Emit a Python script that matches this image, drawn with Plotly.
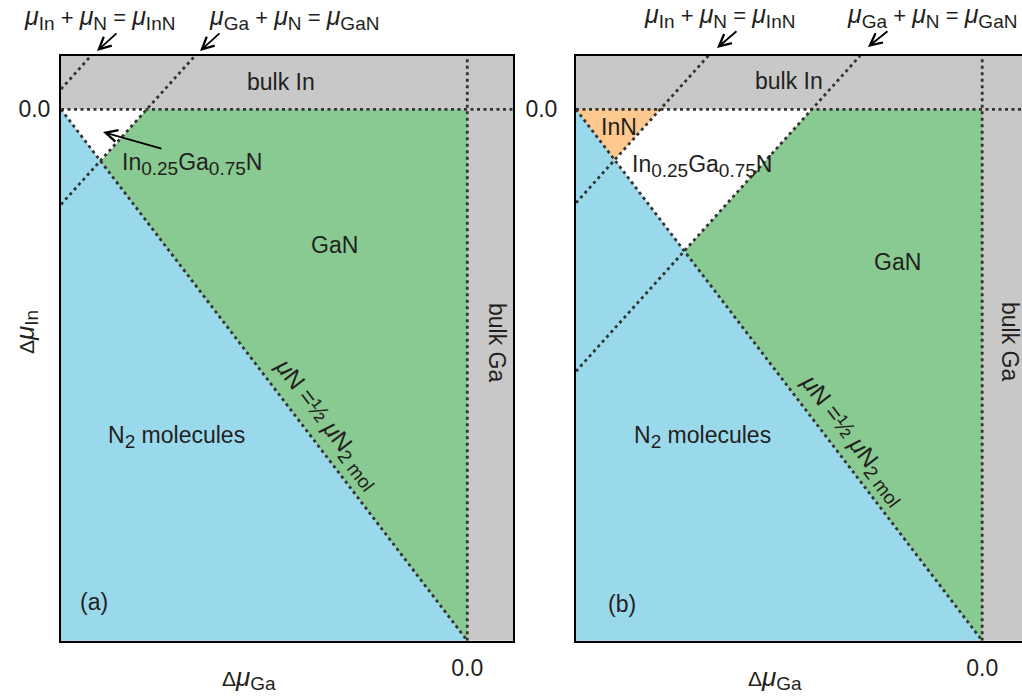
import plotly.graph_objects as go

W, H = 1022, 696

# ---------------- data (chemical-potential units, Δμ) ----------------
X_MIN, X_MAX_A, X_MAX_B = -1.0, 0.1125, 0.098
Y_MIN, Y_MAX = -1.0, 0.101

# common region: N2 molecules (below μN = ½ μN2)
blue_x = [-1.0, 0.0, -1.0]
blue_y = [0.0, -1.0, -1.0]

# panel (a)
a_white_x = [-1.0, -0.789, -0.902]
a_white_y = [0.0, 0.0, -0.098]
a_green_x = [-0.789, 0.0, 0.0, -0.902]
a_green_y = [0.0, 0.0, -1.0, -0.098]
a_inn_x = [-1.0, -0.926]
a_inn_y = [0.038, 0.101]
a_gan_x = [-1.0, -0.670]
a_gan_y = [-0.179, 0.101]

# panel (b)
b_orange_x = [-1.0, -0.793, -0.905]
b_orange_y = [0.0, 0.0, -0.095]
b_white_x = [-0.793, -0.4195, -0.733, -0.905]
b_white_y = [0.0, 0.0, -0.267, -0.095]
b_green_x = [-0.4195, 0.0, 0.0, -0.733]
b_green_y = [0.0, 0.0, -1.0, -0.267]
b_inn_x = [-1.0, -0.674]
b_inn_y = [-0.176, 0.101]
b_gan_x = [-1.0, -0.3005]
b_gan_y = [-0.493, 0.101]

n2_x = [-1.0, 0.0]
n2_y = [0.0, -1.0]

tick_vals = [0.0]
tick_text = ["0.0"]

# ---------------- styles ----------------
BLUE = "#9ad9eb"
GREEN = "#89c992"
GREY = "#c8c8c8"
ORANGE = "#fdc98f"
WHITE = "#ffffff"
DOT = "#333333"
TXT = "#231f20"
FONT = "Liberation Sans, Arial, Helvetica, sans-serif"

fig = go.Figure()


def poly(x, y, color, xa, ya):
    fig.add_trace(go.Scatter(x=x + [x[0]], y=y + [y[0]], mode="lines", fill="toself",
                             fillcolor=color, line=dict(width=0, color=color),
                             hoverinfo="skip", showlegend=False, xaxis=xa, yaxis=ya))


def dotted(x, y, xa, ya):
    fig.add_trace(go.Scatter(x=x, y=y, mode="lines",
                             line=dict(color=DOT, width=2.8, dash="3px,3.5px"),
                             hoverinfo="skip", showlegend=False, xaxis=xa, yaxis=ya,
                             cliponaxis=True))


# panel (a)
poly(blue_x, blue_y, BLUE, "x", "y")
poly(a_white_x, a_white_y, WHITE, "x", "y")
poly(a_green_x, a_green_y, GREEN, "x", "y")
dotted([X_MIN, X_MAX_A], [0.0, 0.0], "x", "y")
dotted([0.0, 0.0], [Y_MIN, Y_MAX], "x", "y")
dotted(n2_x, n2_y, "x", "y")
dotted(a_inn_x, a_inn_y, "x", "y")
dotted(a_gan_x, a_gan_y, "x", "y")

# panel (b)
poly(blue_x, blue_y, BLUE, "x2", "y2")
poly(b_orange_x, b_orange_y, ORANGE, "x2", "y2")
poly(b_white_x, b_white_y, WHITE, "x2", "y2")
poly(b_green_x, b_green_y, GREEN, "x2", "y2")
dotted([X_MIN, X_MAX_B], [0.0, 0.0], "x2", "y2")
dotted([0.0, 0.0], [Y_MIN, Y_MAX], "x2", "y2")
dotted(n2_x, n2_y, "x2", "y2")
dotted(b_inn_x, b_inn_y, "x2", "y2")
dotted(b_gan_x, b_gan_y, "x2", "y2")

ax_common = dict(showgrid=False, zeroline=False, showline=True, linecolor="#000000",
                 linewidth=2, ticks="", tickmode="array", tickvals=tick_vals,
                 ticktext=tick_text, tickfont=dict(family=FONT, size=23, color=TXT))

y_dom = [1 - 640.7 / H, 1 - 55.7 / H]

fig.update_layout(
    width=W, height=H, margin=dict(l=0, r=0, t=0, b=0),
    paper_bgcolor="#ffffff", plot_bgcolor=GREY,
    xaxis=dict(domain=[61 / W, 513 / W], range=[X_MIN, X_MAX_A], mirror=True,
               ticklabelstandoff=6, **ax_common),
    yaxis=dict(domain=y_dom, range=[Y_MIN, Y_MAX], mirror=True,
               ticklabelstandoff=4, **ax_common),
    xaxis2=dict(domain=[576 / W, 1.0], range=[X_MIN, X_MAX_B], mirror=True,
                anchor="y2", ticklabelstandoff=6, **ax_common),
    yaxis2=dict(domain=y_dom, range=[Y_MIN, Y_MAX], mirror=False, anchor="x2",
                ticklabelstandoff=12, **ax_common),
)


def P(xp, yp):
    return xp / W, 1 - yp / H


def sub(t, size=19):
    return f"<sub><span style='font-size:{size}px'>{t}</span></sub>"


def mu(size=25):
    return f"<span style='font-size:{size}px'><i>μ</i></span>"


def label(text, xp, yp, size=23, angle=0, xanchor="center"):
    x, y = P(xp, yp)
    fig.add_annotation(x=x, y=y, xref="paper", yref="paper", text=text, showarrow=False,
                       xanchor=xanchor, yanchor="middle", textangle=angle,
                       font=dict(family=FONT, size=size, color=TXT))


def arrow(hx, hy, tx, ty):
    x, y = P(hx, hy)
    fig.add_annotation(x=x, y=y, xref="paper", yref="paper", text="", showarrow=True,
                       ax=tx - hx, ay=ty - hy, arrowhead=5, arrowsize=1.3,
                       arrowwidth=1.8, arrowcolor="#000000", standoff=0)


MU_INN = f"{mu()}{sub('In')} + {mu()}{sub('N')} = {mu()}{sub('InN')}"
MU_GAN = f"{mu()}{sub('Ga')} + {mu()}{sub('N')} = {mu()}{sub('GaN')}"
ALLOY = f"In{sub('0.25')}Ga{sub('0.75')}N"
N2MOL = f"N{sub('2')} molecules"
N2LINE = f"<i>μ</i>N =½ <i>μ</i>N{sub('2 mol', 19)}"
DGA = f"Δ{mu(26)}{sub('Ga')}"
DIN = f"Δ{mu(26)}{sub('In')}"

# panel (a) texts
label(MU_INN, 99, 18, size=22)
label(MU_GAN, 294, 18, size=22)
arrow(97, 51, 118, 32)
arrow(200, 51, 221, 32)
label("bulk In", 281, 82)
label("bulk Ga", 497, 342, angle=90)
label("GaN", 334, 245)
label(N2MOL, 176, 437)
label(ALLOY, 192, 164)
arrow(103, 132, 163, 149)
label(N2LINE, 327, 424, size=24, angle=52.6)
label("(a)", 94, 602)
label(DGA, 249, 678, size=21)
label(DIN, 26, 332, size=21, angle=-90)

# panel (b)
label(MU_INN, 719, 16, size=22)
label(MU_GAN, 845, 16, size=22, xanchor="left")
arrow(717, 48, 738, 30)
arrow(868, 47, 889, 30)
label("bulk In", 789, 81)
label("bulk Ga", 1010, 341, angle=90)
label("GaN", 897, 262)
label(N2MOL, 702, 437)
label("InN", 619, 127)
label(ALLOY, 702, 166)
label(N2LINE, 853, 440, size=24, angle=52.6)
label("(b)", 622, 604)
label(DGA, 775, 678, size=21)

fig.write_html("out.html")
